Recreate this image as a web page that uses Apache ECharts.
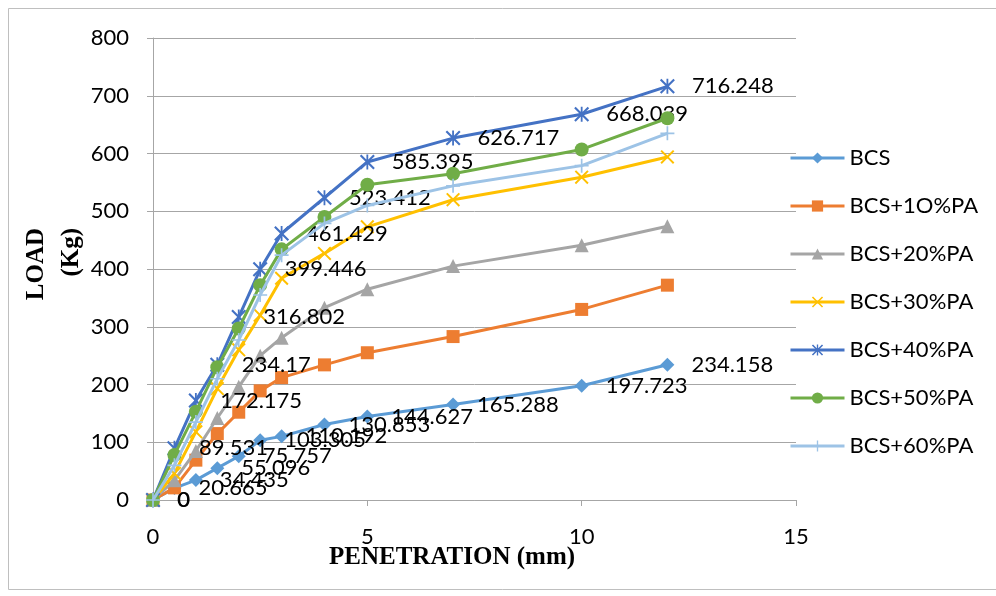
<!DOCTYPE html>
<html>
<head>
<meta charset="utf-8">
<script src="https://cdn.jsdelivr.net/npm/echarts@6/dist/echarts.min.js"></script>
<style>
  html, body { margin: 0; padding: 0; background: #ffffff; }
  #chart { width: 996px; height: 596px; }
</style>
</head>
<body>
<div id="chart"></div>
<script>
// ---- data ----
const penetration = [0, 0.5, 1, 1.5, 2, 2.5, 3, 4, 5, 7, 10, 12];
const seriesNames = ['BCS', 'BCS+1O%PA', 'BCS+20%PA', 'BCS+30%PA', 'BCS+40%PA', 'BCS+50%PA', 'BCS+60%PA'];
const bcs   = [0, 20.665, 34.435, 55.096, 75.757, 103.305, 110.192, 130.853, 144.627, 165.288, 197.723, 234.158];
const bcs10 = [0, 21, 69, 115, 152, 189, 212, 234, 255, 283, 330, 372];
const bcs20 = [0, 34, 85, 142, 196, 250, 281, 333, 365, 405, 441, 474];
const bcs30 = [0, 46, 118, 193, 260, 320, 384, 427, 473, 520, 559, 594];
const bcs40 = [0, 89.531, 172.175, 234.17, 316.802, 399.446, 461.429, 523.412, 585.395, 626.717, 668.039, 716.248];
const bcs50 = [0, 78, 153, 230, 297, 372, 434, 490, 546, 565, 607, 661];
const bcs60 = [0, 60, 135, 210, 277, 355, 424, 479, 510, 544, 579, 635];
const xTicks = [0, 5, 10, 15];
const yTicks = [0, 100, 200, 300, 400, 500, 600, 700, 800];

// ---- styles ----
const colors = ['#5B9BD5', '#ED7D31', '#A5A5A5', '#FFC000', '#4472C4', '#70AD47', '#9DC3E6'];
const X_PATH = 'path://M0,1 L1,0 L5,4 L9,0 L10,1 L6,5 L10,9 L9,10 L5,6 L1,10 L0,9 L4,5 Z';
const STAR_PATH = 'path://M0,1 L1,0 L5,4 L9,0 L10,1 L6,5 L10,9 L9,10 L5,6 L1,10 L0,9 L4,5 Z M4.4,0 L5.6,0 L5.6,10 L4.4,10 Z';
const PLUS_PATH = 'path://M4.4,0 L5.6,0 L5.6,4.4 L10,4.4 L10,5.6 L5.6,5.6 L5.6,10 L4.4,10 L4.4,5.6 L0,5.6 L0,4.4 L4.4,4.4 Z';
const symbols = ['diamond', 'rect', 'triangle', X_PATH, STAR_PATH, 'circle', PLUS_PATH];
const symbolSizes = [14, 13, 14, 14, 15, 14, 14];
const labelled = [true, false, false, false, true, false, false];
const FONT = 'Lato';

const allData = [bcs, bcs10, bcs20, bcs30, bcs40, bcs50, bcs60];

const series = allData.map((vals, si) => ({
  name: seriesNames[si],
  type: 'line',
  data: penetration.map((x, i) => [x, vals[i]]),
  symbol: symbols[si],
  symbolSize: symbolSizes[si],
  showAllSymbol: true,
  lineStyle: { color: colors[si], width: 3 },
  itemStyle: { color: colors[si], borderWidth: 0 },
  emphasis: { disabled: true },
  animation: false,
  z: 2 + si,
  label: {
    show: labelled[si],
    position: 'right',
    distance: 17,
    fontFamily: FONT,
    fontSize: 22,
    color: '#000000',
    formatter: p => String(vals[p.dataIndex])
  },
  labelLayout: { hideOverlap: false }
}));

const chart = echarts.init(document.getElementById('chart'), null, { renderer: 'canvas' });
chart.setOption({
  animation: false,
  backgroundColor: '#ffffff',
  grid: { left: 153, right: 200, top: 38, bottom: 96, containLabel: false },
  xAxis: {
    type: 'value',
    min: xTicks[0], max: xTicks[xTicks.length - 1], interval: 5,
    name: 'PENETRATION (mm)',
    nameLocation: 'middle',
    nameGap: 45,
    nameMoveOverlap: false,
    nameTextStyle: { fontFamily: 'Liberation Serif', fontWeight: 'bold', fontSize: 25, color: '#000', padding: [0, 45, 0, 0] },
    axisLine: { show: true, lineStyle: { color: '#a6a6a6', width: 1 } },
    axisTick: { show: true, inside: false, length: 6, lineStyle: { color: '#a6a6a6' } },
    axisLabel: { fontFamily: FONT, fontSize: 22, color: '#000', margin: 26 },
    splitLine: { show: false }
  },
  yAxis: {
    type: 'value',
    min: yTicks[0], max: yTicks[yTicks.length - 1], interval: 100,
    axisLine: { show: true, lineStyle: { color: '#a6a6a6', width: 1 } },
    axisTick: { show: true, inside: false, length: 6, lineStyle: { color: '#a6a6a6' } },
    axisLabel: { fontFamily: FONT, fontSize: 22, color: '#000', margin: 24 },
    splitLine: { show: true, lineStyle: { color: '#a6a6a6', width: 1 } }
  },
  legend: {
    orient: 'vertical',
    left: 789, top: 147,
    padding: 0,
    itemWidth: 54, itemHeight: 14,
    itemGap: 26,
    itemTextGap: 6,
    data: seriesNames,
    lineStyle: { width: 3 },
    textStyle: { fontFamily: FONT, fontSize: 22, color: '#000', lineHeight: 22 },
    selectedMode: false
  },
  graphic: [
    {
      type: 'rect', silent: true, z: -1,
      shape: { x: 8.5, y: 8.5, width: 1000, height: 581 },
      style: { fill: 'none', stroke: '#bfbfbf', lineWidth: 1 }
    },
    {
      type: 'text', silent: true,
      x: 54, y: 228, rotation: Math.PI / 2,
      style: {
        text: 'LOAD\n(Kg)', align: 'right', verticalAlign: 'middle',
        fontFamily: 'Liberation Serif', fontWeight: 'bold', fontSize: 25, lineHeight: 35, fill: '#000'
      }
    }
  ],
  series: series
});
</script>
</body>
</html>
